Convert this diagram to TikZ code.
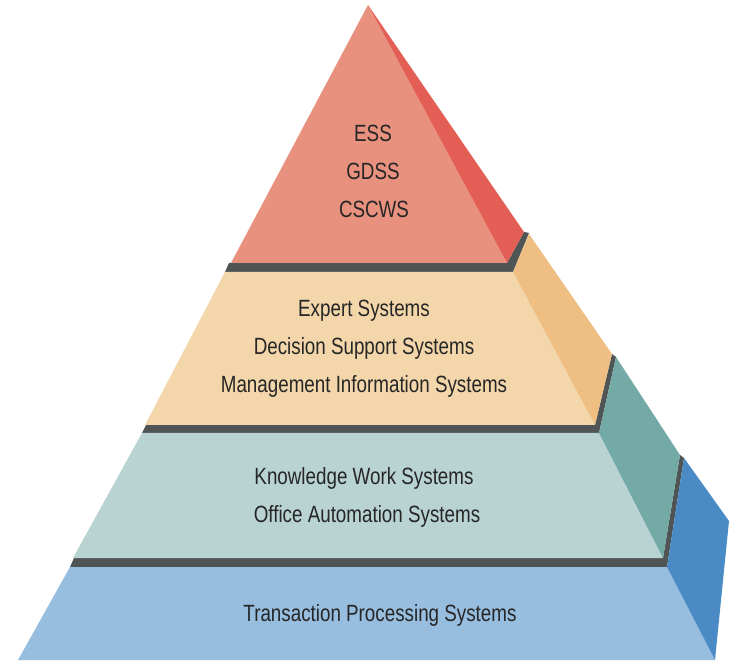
\documentclass[tikz,border=0pt]{standalone}
\usepackage{fontspec}
\setmainfont{Liberation Sans}[FakeStretch=0.8]
\definecolor{redF}{HTML}{E9917F}
\definecolor{redS}{HTML}{E35F55}
\definecolor{tanF}{HTML}{F3D7AB}
\definecolor{tanS}{HTML}{EEBE83}
\definecolor{tealF}{HTML}{B8D3D2}
\definecolor{tealS}{HTML}{74AAA6}
\definecolor{blueF}{HTML}{97BDDF}
\definecolor{blueS}{HTML}{4A8BC5}
\definecolor{shade}{HTML}{4F5455}
\definecolor{ink}{HTML}{262626}
\tikzset{
  lbl/.style={anchor=base, inner sep=0pt, text=ink, font=\fontsize{23.5}{28}\selectfont},
  band/.style={fill=shade}
}
\begin{document}
\begin{tikzpicture}[x=1pt,y=-1pt]
\useasboundingbox[fill=white] (0,0) rectangle (740,671);
% dark bands (tops of lower tiers)
\fill[band] (229,263) -- (507,263) -- (524,232) -- (529,233) -- (513,272) -- (225,272) -- cycle;
\fill[band] (146,425) -- (595,425) -- (612,354) -- (616,357) -- (599,433) -- (142,433) -- cycle;
\fill[band] (74,558) -- (663,558) -- (680,455) -- (684,458) -- (667,567) -- (70,567) -- cycle;
% tier 1
\fill[redF] (368,5) -- (231,263) -- (507,263) -- cycle;
\fill[redS] (368,5) -- (524,232) -- (507,263) -- cycle;
% tier 2
\fill[tanF] (225,272) -- (513,272) -- (595,425) -- (145,425) -- cycle;
\fill[tanS] (529,234) -- (612,354) -- (595,425) -- (513,272) -- cycle;
% tier 3
\fill[tealF] (142,433) -- (599,433) -- (663,558) -- (73,558) -- cycle;
\fill[tealS] (616,357) -- (680,455) -- (663,558) -- (599,433) -- cycle;
% tier 4
\fill[blueF] (70,567) -- (667,567) -- (715,660) -- (18,660) -- cycle;
\fill[blueS] (684,458) -- (729,521) -- (715,660) -- (667,567) -- cycle;
% labels
\node[lbl] (ess) at (373,142) {ESS};
\node[lbl] (gdss) at (373,180) {GDSS};
\node[lbl] (cscws) at (374,218) {CSCWS};
\node[lbl] (es) at (364,317) {Expert Systems};
\node[lbl] (dss) at (364,355) {Decision Support Systems};
\node[lbl] (mis) at (364,392) {Management Information Systems};
\node[lbl] (kws) at (364,484) {Knowledge Work Systems};
\node[lbl] (oas) at (367,522) {Office Automation Systems};
\node[lbl] (tps) at (380,621) {Transaction Processing Systems};
\end{tikzpicture}
\end{document}
